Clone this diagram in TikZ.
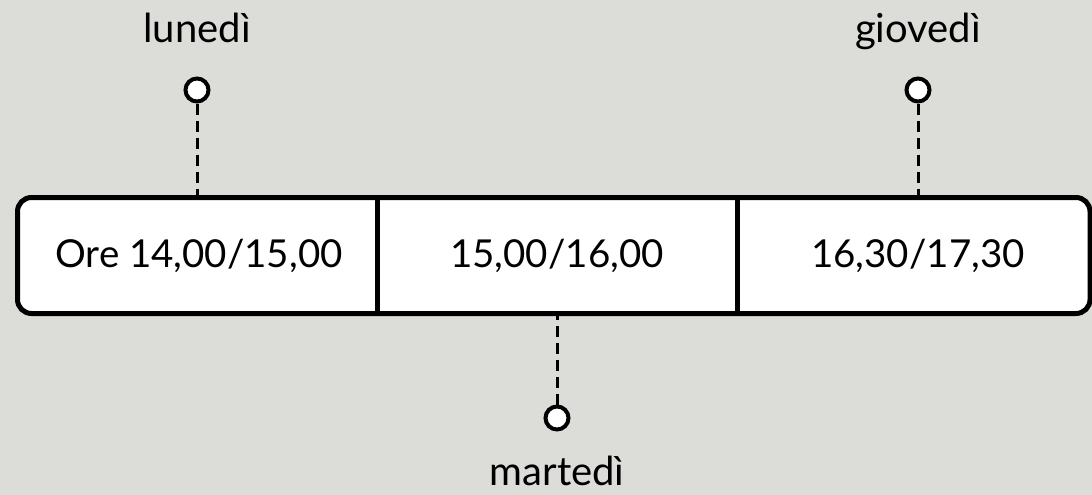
\documentclass[tikz,border=0pt]{standalone}
\usepackage{fontspec}
\setmainfont{Lato}
\usetikzlibrary{positioning}
\definecolor{bggray}{RGB}{220,221,216}

\begin{document}
\begin{tikzpicture}[x=1pt,y=-1pt,
    daytext/.style={font=\fontsize{40}{48}\selectfont,anchor=base,inner sep=0pt},
    slottext/.style={font=\fontsize{38.5}{46}\selectfont,anchor=base,inner sep=0pt},
    dot/.style={circle,draw,line width=4pt,fill=white,minimum size=23pt,inner sep=0pt},
    leader/.style={line width=3pt,dash pattern=on 11pt off 6pt}]
    \useasboundingbox (0,0) rectangle (1092,495);
    \fill[bggray] (0,0) rectangle (1092,495);

    % the bar with the three slots
    \node[draw,line width=5pt,rounded corners=14pt,fill=white,
          minimum width=1072.5pt,minimum height=116pt,inner sep=0pt] (bar) at (553.75,255.5) {};
    \draw[line width=5pt] (377,197.5) -- (377,313.5);
    \draw[line width=5pt] (737,197.5) -- (737,313.5);
    \node[slottext] (slotA) at (199,267) {Ore 14,00/15,00};
    \node[slottext] (slotB) at (557,267) {15,00/16,00};
    \node[slottext] (slotC) at (918,267) {16,30/17,30};

    % days
    \node[dot] (lunDot) at (197,90) {};
    \node[daytext] (lun) at (197,43) {lunedì};
    \draw[leader] (lunDot) -- (lunDot |- bar.north);

    \node[dot] (gioDot) at (918,90) {};
    \node[daytext] (gio) at (918,43) {giovedì};
    \draw[leader] (gioDot) -- (gioDot |- bar.north);

    \node[dot] (marDot) at (557,418) {};
    \node[daytext] (mar) at (557,485) {martedì};
    \draw[leader] (marDot) -- (marDot |- bar.south);
  \end{tikzpicture}
\end{document}
